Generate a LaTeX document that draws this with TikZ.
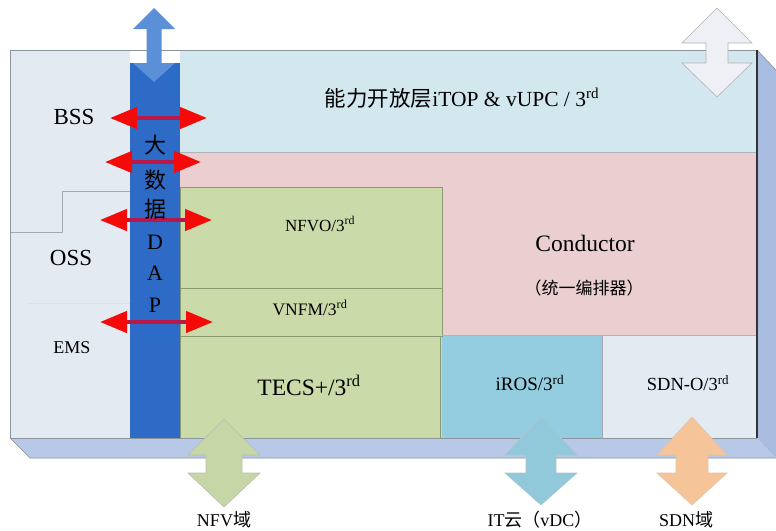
\documentclass[tikz,border=0pt]{standalone}
\usepackage{fontspec}
\setmainfont{Liberation Serif}
\newfontfamily\cjk{Noto Sans CJK SC}
\usetikzlibrary{arrows.meta}
\definecolor{leftbg}{HTML}{E4EAF2}
\definecolor{framegray}{HTML}{8C949C}
\definecolor{barblue}{HTML}{2E6BC6}
\definecolor{toparrow}{HTML}{5B8FD8}
\definecolor{capbg}{HTML}{D2E8EE}
\definecolor{pinkbg}{HTML}{EBCFD0}
\definecolor{greenbg}{HTML}{CBDAA9}
\definecolor{greenline}{HTML}{8A9A70}
\definecolor{irosbg}{HTML}{94CDE0}
\definecolor{sdnbg}{HTML}{E4EAF2}
\definecolor{slab}{HTML}{B7C9E6}
\definecolor{side}{HTML}{A8BCE0}
\definecolor{redhead}{HTML}{F50A0A}
\definecolor{redshaft}{HTML}{B8184A}
\definecolor{nfvarrow}{HTML}{C6D6A6}
\definecolor{itarrow}{HTML}{92C9DA}
\definecolor{sdnarrow}{HTML}{F6C499}
\definecolor{trarrow}{HTML}{EEF0F6}
\newcommand{\fs}[1]{\fontsize{#1}{#1}\selectfont}
\newcommand{\vdarrowpath}[8]{% cx top hb1 hb2 bottom headhalf shafthalf style
  \path[#8] (#1,#2) -- ({#1+#6},#3) -- ({#1+#7},#3) -- ({#1+#7},#4) -- ({#1+#6},#4)
    -- (#1,#5) -- ({#1-#6},#4) -- ({#1-#7},#4) -- ({#1-#7},#3) -- ({#1-#6},#3) -- cycle;}
\begin{document}
\begin{tikzpicture}[x=1pt,y=-1pt,
  lbl/.style={inner sep=0pt, text=black},
  redarrow/.style={line width=4.5pt, draw=redshaft,
     {Triangle[length=27pt,width=21pt,color=redhead]}-{Triangle[length=27pt,width=21pt,color=redhead]}},
  regionbox/.style={draw=greenline, line width=0.6pt}]
\useasboundingbox (0,0) rectangle (776,530);
\fill[white] (0,0) rectangle (776,530);

% 3D slab and side
\fill[slab] (10,438) -- (757,438) -- (776,458) -- (30,458) -- cycle;
\draw[framegray, line width=0.6pt] (10,438) -- (30,458) -- (776,458);
\fill[side] (757,50) -- (776,70) -- (776,458) -- (757,438) -- cycle;
\draw[framegray, line width=0.6pt] (757,50) -- (776,70);

% front face regions
\fill[leftbg] (10,50) rectangle (130,438);
\fill[capbg] (180,50) rectangle (757,152);
\fill[pinkbg] (180,152) rectangle (757,335);
\fill[greenbg] (180,187) rectangle (442,438);
\fill[irosbg] (442,335) rectangle (602,438);
\fill[sdnbg] (602,335) rectangle (757,438);
\draw[regionbox] (180,187) rectangle (442,288);
\draw[regionbox] (180,288) rectangle (442,336);
\draw[regionbox] (180,336) rectangle (440,438);
\draw[framegray!70, line width=0.6pt] (180,152) -- (757,152);
\draw[framegray!80, line width=0.6pt] (602,335) -- (602,438);
\draw[framegray!70, line width=0.6pt] (442,335) -- (757,335);

% left column separators
\draw[framegray!80, line width=0.7pt] (10,232) -- (62,232) -- (62,191) -- (130,191);
\draw[framegray!30, line width=0.8pt] (28,303) -- (130,303);

% frame outline
\draw[framegray, line width=1pt] (10,438) -- (10,50) -- (757,50);
\draw[black!80, line width=1.4pt] (757,50) -- (757,438);
\draw[framegray, line width=0.8pt] (10,438) -- (757,438);

% DAP bar
\fill[barblue] (130,63) rectangle (180,438);
\vdarrowpath{154}{8}{29}{63}{82}{21}{7.5}{fill=toparrow}

% red double arrows
\coordinate (r1a) at (110,118); \coordinate (r1b) at (207,118);
\coordinate (r2a) at (105,162); \coordinate (r2b) at (201,162);
\coordinate (r3a) at (100,220); \coordinate (r3b) at (212,220);
\coordinate (r4a) at (100,322); \coordinate (r4b) at (213,322);
\draw[redarrow] (r1a) -- (r1b);
\draw[redarrow] (r2a) -- (r2b);
\draw[redarrow] (r3a) -- (r3b);
\draw[redarrow] (r4a) -- (r4b);

% bar text
\node[lbl, font=\cjk\fs{22}] (da) at (155,145) {大};
\node[lbl, font=\cjk\fs{22}] (shu) at (155,180) {数};
\node[lbl, font=\cjk\fs{22}] (ju) at (155,209) {据};
\node[lbl, font=\fs{22}] (dD) at (155,242) {D};
\node[lbl, font=\fs{22}] (dA) at (155,273) {A};
\node[lbl, font=\fs{22}] (dP) at (155,305) {P};

% left labels
\node[lbl, font=\fs{23}] (bss) at (74,117) {BSS};
\node[lbl, font=\fs{23}] (oss) at (71,258) {OSS};
\node[lbl, font=\fs{18}] (ems) at (72,348) {EMS};

% box labels
\node[lbl, font=\fs{21.5}] (cap) at (462,98) {{\cjk 能力开放层}iTOP \& vUPC / 3\textsuperscript{rd}};
\node[lbl, font=\fs{17}] (nfvo) at (320,224) {NFVO/3\textsuperscript{rd}};
\node[lbl, font=\fs{17.5}] (vnfm) at (310,308) {VNFM/3\textsuperscript{rd}};
\node[lbl, font=\fs{23.5}] (tecs) at (309,385) {TECS+/3\textsuperscript{rd}};
\node[lbl, font=\fs{23.5}] (cond) at (585,243) {Conductor};
\node[lbl, font=\cjk\fs{17}] (condsub) at (584,288) {（统一编排器）};
\node[lbl, font=\fs{19}] (iros) at (530,383) {iROS/3\textsuperscript{rd}};
\node[lbl, font=\fs{18.5}] (sdno) at (688,383) {SDN-O/3\textsuperscript{rd}};

% top-right arrow
\vdarrowpath{717}{8}{43}{63}{97}{35}{11}{fill=trarrow, draw=black!30, line width=0.6pt}

% bottom arrows
\vdarrowpath{224}{419}{455}{473}{507}{36}{18}{fill=nfvarrow, draw=nfvarrow!70!black!60, line width=0.6pt}
\vdarrowpath{541}{417}{455}{473}{505}{36}{15}{fill=itarrow, draw=itarrow!80!black!60, line width=0.6pt}
\vdarrowpath{692}{417}{455}{473}{505}{35}{16}{fill=sdnarrow, draw=sdnarrow!80!black!60, line width=0.6pt}

% bottom labels
\node[lbl, font=\fs{18}] (nfvd) at (224,520) {NFV{\cjk 域}};
\node[lbl, font=\fs{18}] (itd) at (540,520) {IT{\cjk 云（}vDC{\cjk ）}};
\node[lbl, font=\fs{18}] (sdnd) at (686,520) {SDN{\cjk 域}};
\end{tikzpicture}
\end{document}
